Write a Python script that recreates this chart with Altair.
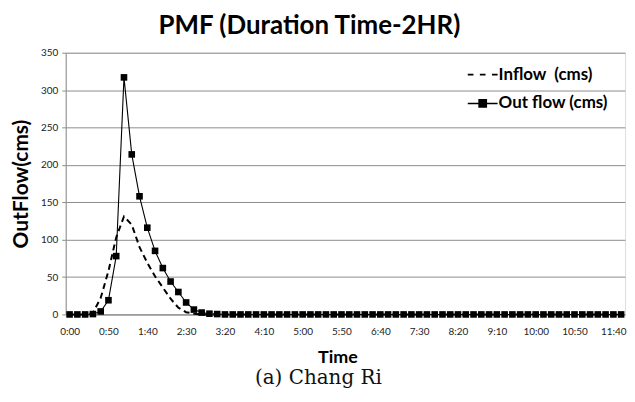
import altair as alt
import pandas as pd

times = [
    "0:00", "0:10", "0:20", "0:30", "0:40", "0:50", "1:00", "1:10", "1:20", "1:30", "1:40", "1:50",
    "2:00", "2:10", "2:20", "2:30", "2:40", "2:50", "3:00", "3:10", "3:20", "3:30", "3:40", "3:50",
    "4:00", "4:10", "4:20", "4:30", "4:40", "4:50", "5:00", "5:10", "5:20", "5:30", "5:40", "5:50",
    "6:00", "6:10", "6:20", "6:30", "6:40", "6:50", "7:00", "7:10", "7:20", "7:30", "7:40", "7:50",
    "8:00", "8:10", "8:20", "8:30", "8:40", "8:50", "9:00", "9:10", "9:20", "9:30", "9:40", "9:50",
    "10:00", "10:10", "10:20", "10:30", "10:40", "10:50", "11:00", "11:10", "11:20", "11:30", "11:40", "11:50",
]

tick_labels = ["0:00", "0:50", "1:40", "2:30", "3:20", "4:10", "5:00", "5:50", "6:40",
               "7:30", "8:20", "9:10", "10:00", "10:50", "11:40"]

inflow = [0, 0, 0, 2, 22, 58, 103, 131, 120, 90, 69, 51,
          36, 21, 9, 3, 1, 0, 0, 0, 0, 0, 0, 0,
          0, 0, 0, 0, 0, 0, 0, 0, 0, 0, 0, 0,
          0, 0, 0, 0, 0, 0, 0, 0, 0, 0, 0, 0,
          0, 0, 0, 0, 0, 0, 0, 0, 0, 0, 0, 0,
          0, 0, 0, 0, 0, 0, 0, 0, 0, 0, 0, 0]

outflow = [0, 0, 0, 0.5, 4, 19, 78, 317, 214, 158, 116, 85,
           62, 44, 30, 16, 6.5, 2.5, 1, 0.5, 0, 0, 0, 0,
           0, 0, 0, 0, 0, 0, 0, 0, 0, 0, 0, 0,
           0, 0, 0, 0, 0, 0, 0, 0, 0, 0, 0, 0,
           0, 0, 0, 0, 0, 0, 0, 0, 0, 0, 0, 0,
           0, 0, 0, 0, 0, 0, 0, 0, 0, 0, 0, 0]

series_names = ["Inflow\u00a0 (cms)", "Out flow (cms)"]
y_ticks = [0, 50, 100, 150, 200, 250, 300, 350]

df = pd.DataFrame({
    "time": times * 2,
    "series": [series_names[0]] * len(times) + [series_names[1]] * len(times),
    "value": inflow + outflow,
})

FONT = "Lato"
GRAY = "#8c8c8c"

x_enc = alt.X(
    "time:N", sort=times,
    scale=alt.Scale(type="point", padding=0.5),
    axis=alt.Axis(
        values=tick_labels, labelAngle=0, ticks=False, grid=False,
        domainColor=GRAY, labelFontSize=10, labelFont=FONT, labelColor="#222",
        labelPadding=12, title="Time", titleFont=FONT, titleFontSize=18,
        titleFontWeight="bold", titlePadding=12, titleColor="black", titleX=273,
    ),
)
y_enc = alt.Y(
    "value:Q",
    scale=alt.Scale(domain=[0, 350], nice=False),
    axis=alt.Axis(
        values=y_ticks, grid=True, gridColor=GRAY, gridWidth=1, domainColor=GRAY,
        tickColor=GRAY, tickSize=4, labelFontSize=10, labelFont=FONT, labelColor="#222",
        labelPadding=4, title="OutFlow(cms)", titleFont=FONT, titleFontSize=21,
        titleFontWeight="bold", titlePadding=9, titleColor="black",
    ),
)

base = alt.Chart(df)

inflow_line = base.transform_filter(
    alt.datum.series == series_names[0]
).mark_line(color="black", strokeWidth=2, strokeDash=[6, 4]).encode(x=x_enc, y=y_enc)

outflow_line = base.transform_filter(
    alt.datum.series == series_names[1]
).mark_line(color="black", strokeWidth=1.1).encode(x=x_enc, y=y_enc)

outflow_pts = base.transform_filter(
    alt.datum.series == series_names[1]
).mark_point(shape="square", filled=True, size=44, color="black", opacity=1).encode(x=x_enc, y=y_enc)

legend_paths = [
    "M-1,0H-0.62M-0.19,0H0.19M0.62,0H1",
    "M-1,0H1M-0.24,-0.24H0.24V0.24H-0.24Z",
]

legend_layer = base.transform_filter("false").mark_point(
    filled=False, stroke="black", fill="black", strokeWidth=1.6, opacity=1
).encode(
    x=x_enc, y=y_enc,
    shape=alt.Shape(
        "series:N",
        scale=alt.Scale(domain=series_names, range=legend_paths),
        legend=alt.Legend(
            title=None, orient="none", legendX=403, legendY=6,
            symbolSize=900, symbolStrokeWidth=1.6,
            labelFont=FONT, labelFontSize=17,
            labelFontWeight="bold", labelColor="black", labelOffset=0,
            rowPadding=5, padding=0, symbolOpacity=1,
        ),
    ),
)

plot = alt.layer(inflow_line, outflow_line, outflow_pts, legend_layer).properties(
    width=562, height=263,
    title=alt.Title("PMF (Duration Time-2HR)", font=FONT, fontSize=26, fontWeight="bold",
                    color="black", anchor="middle", frame="bounds", offset=9, dx=-9),
)

chart = alt.vconcat(plot).properties(
    title=alt.Title("(a) Chang Ri", orient="bottom", font="DejaVu Serif", fontSize=20,
                    fontWeight="normal", color="#111", anchor="middle", frame="bounds", offset=1),
    padding={"left": 2, "top": 3, "right": 0, "bottom": 0},
).configure_view(stroke=None).configure(background="white")

chart.save("out.html", embed_options={"renderer": "svg", "actions": False})
